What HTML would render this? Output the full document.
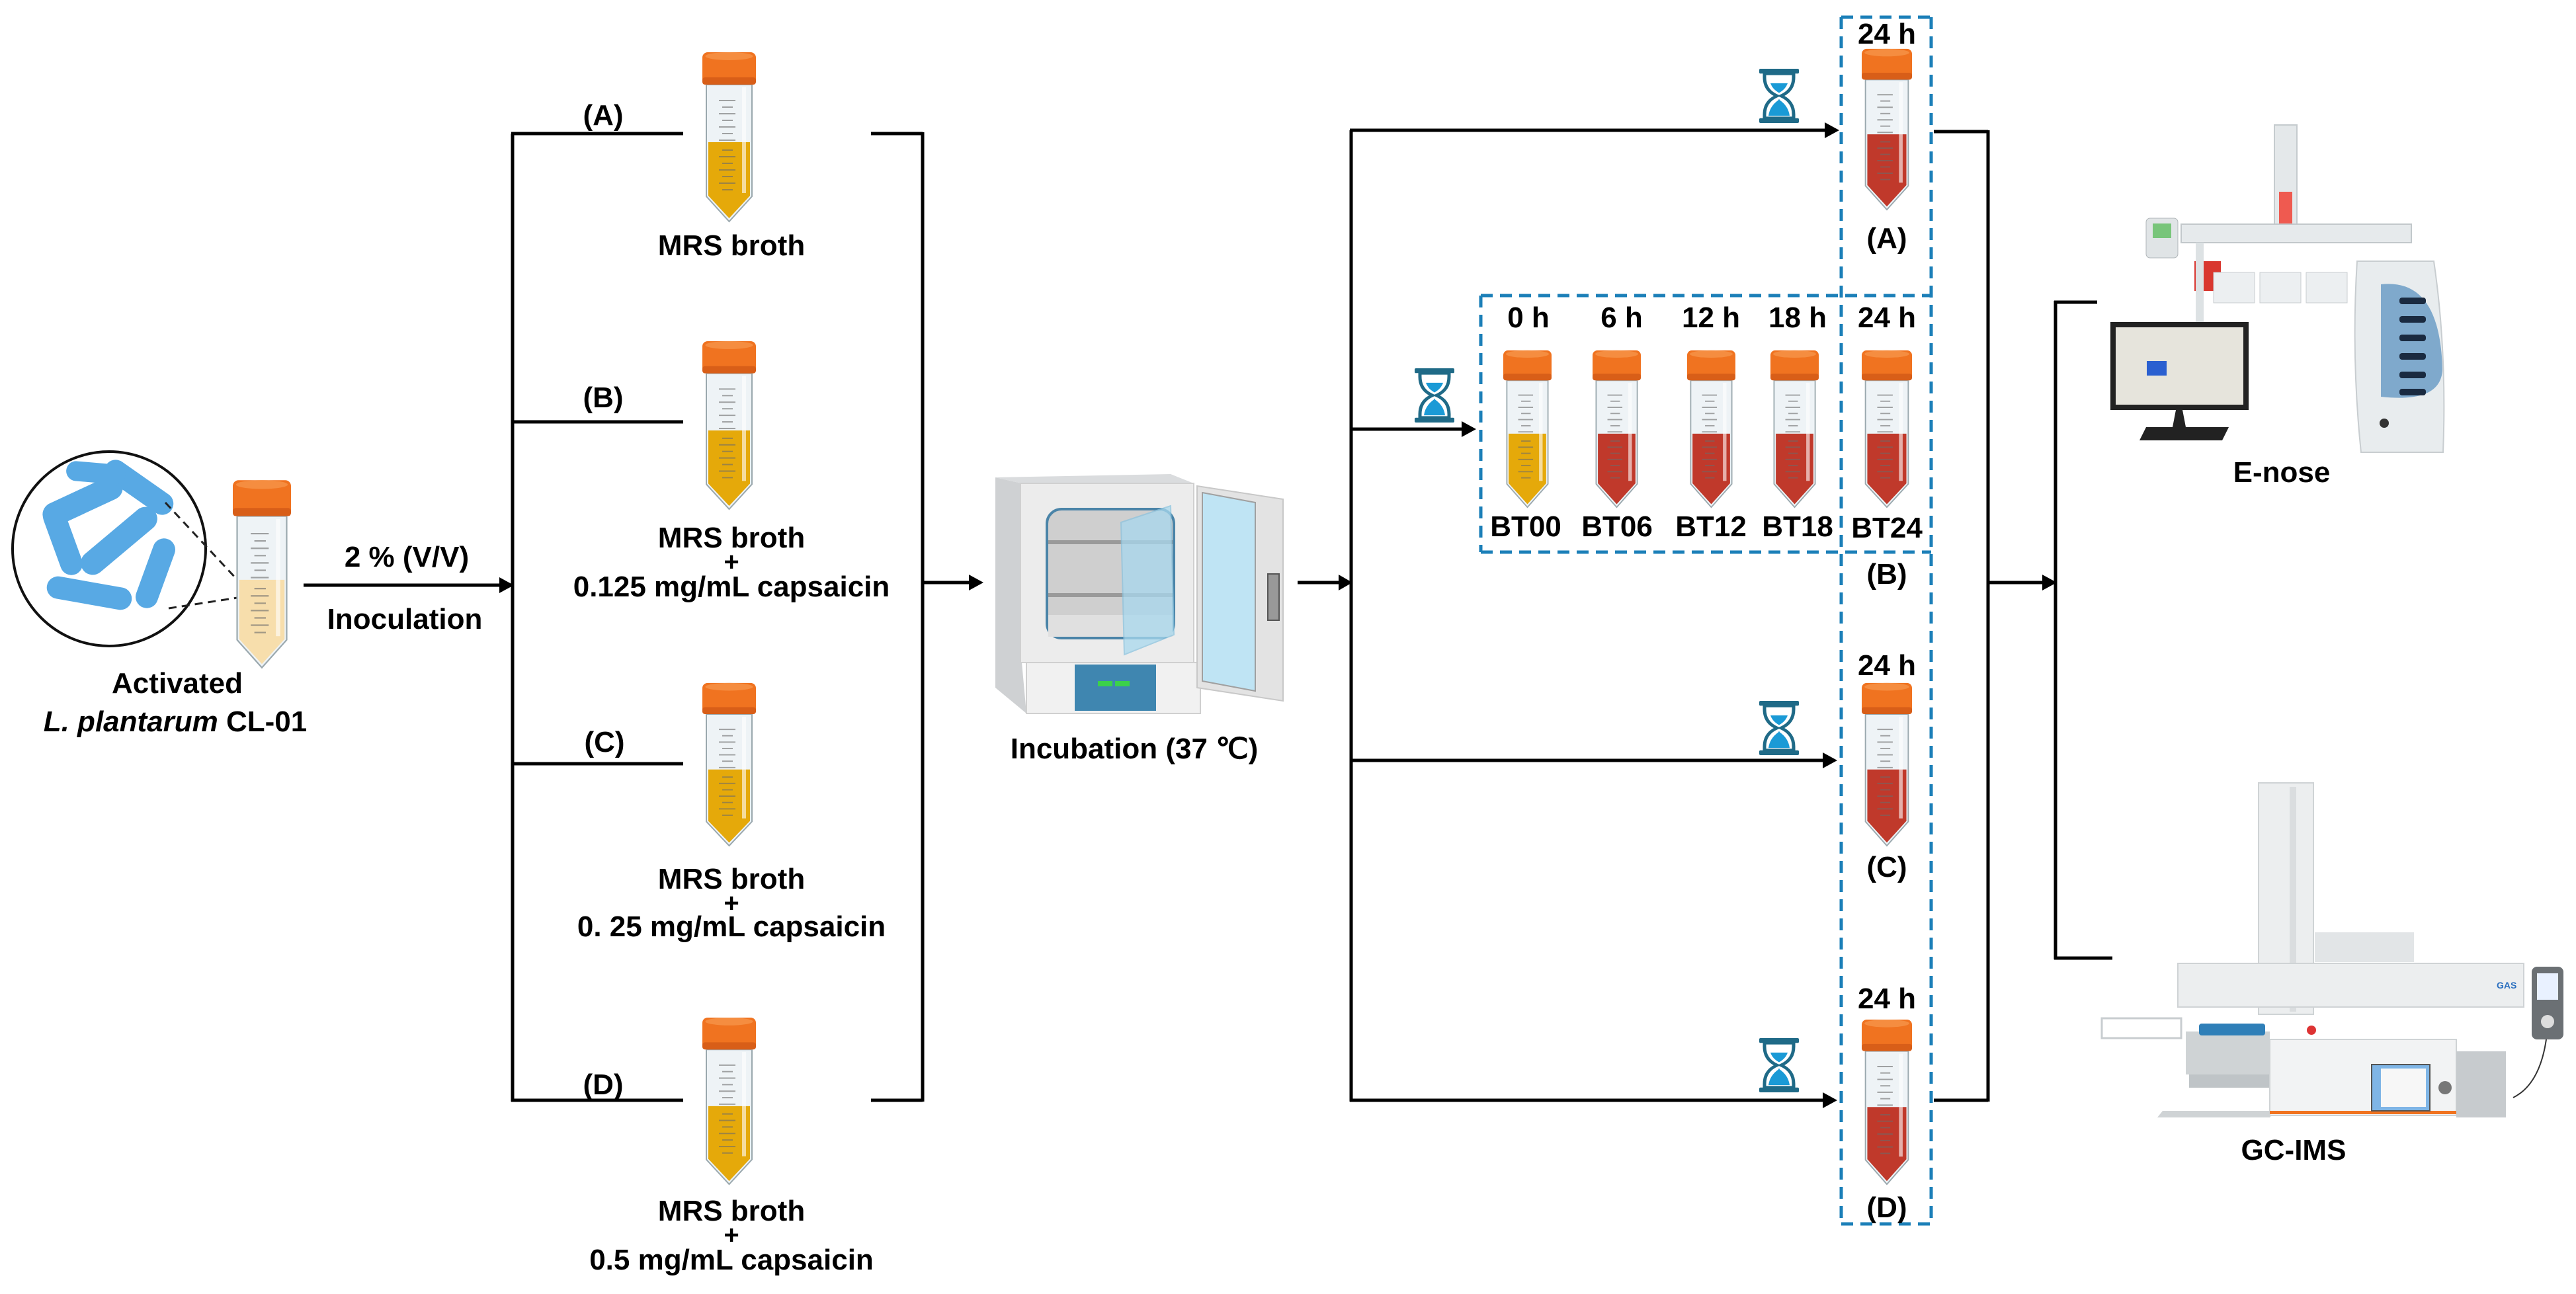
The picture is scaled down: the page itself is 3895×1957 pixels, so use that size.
<!DOCTYPE html>
<html><head><meta charset="utf-8"><style>
html,body{margin:0;padding:0;background:#fff;}
svg{display:block;}
text{font-family:"Liberation Sans",Arial,sans-serif;font-weight:bold;fill:#000;}
</style></head><body>
<svg width="3895" height="1957" viewBox="0 0 3895 1957" xmlns="http://www.w3.org/2000/svg">
<defs>
<symbol id="tube" viewBox="0 0 81 260" preserveAspectRatio="none">
  <path d="M6 51 H75 V220 L40.5 258 L6 220 Z" fill="#eef3f6" stroke="#9aa8ae" stroke-width="2"/>
  <path d="M9 138 H72 V219 L40.5 253 L9 219 Z" fill="currentColor"/>
  <g stroke="#6b6b6b" stroke-width="2" opacity="0.6">
    <line x1="25" y1="75" x2="50" y2="75"/><line x1="30" y1="85" x2="46" y2="85"/>
    <line x1="25" y1="95" x2="50" y2="95"/><line x1="30" y1="105" x2="46" y2="105"/>
    <line x1="25" y1="115" x2="50" y2="115"/><line x1="30" y1="125" x2="46" y2="125"/>
    <line x1="25" y1="135" x2="50" y2="135"/><line x1="30" y1="150" x2="46" y2="150"/>
    <line x1="25" y1="160" x2="50" y2="160"/><line x1="30" y1="170" x2="46" y2="170"/>
    <line x1="25" y1="180" x2="50" y2="180"/><line x1="30" y1="190" x2="46" y2="190"/>
    <line x1="25" y1="200" x2="50" y2="200"/><line x1="30" y1="210" x2="46" y2="210"/>
  </g>
  <rect x="60" y="55" width="6" height="160" fill="#fff" opacity="0.6"/>
  <rect x="0" y="2" width="81" height="49" rx="8" fill="#f07320"/>
  <ellipse cx="40.5" cy="8" rx="36" ry="6" fill="#f58d40"/>
  <rect x="0" y="40" width="81" height="11" rx="4" fill="#d85e18"/>
</symbol>
<symbol id="hg" viewBox="0 0 60 90" preserveAspectRatio="none">
  <rect x="0" y="0" width="60" height="8" rx="2" fill="#1f6a87"/>
  <rect x="0" y="82" width="60" height="8" rx="2" fill="#1f6a87"/>
  <path d="M8 8 H52 V14 Q52 36 33 45 Q52 54 52 76 V82 H8 V76 Q8 54 27 45 Q8 36 8 14 Z" fill="#fff" stroke="#1f6a87" stroke-width="5"/>
  <path d="M17 24 H43 Q40 34 30 40 Q20 34 17 24 Z" fill="#1a9ad6"/>
  <path d="M30 50 L31 52 Q44 62 46 78 H14 Q16 62 29 52 Z" fill="#1a9ad6"/>
</symbol>
</defs>

<!-- Left: bacteria circle -->
<ellipse cx="165" cy="830" rx="146" ry="147" fill="#fff" stroke="#111" stroke-width="4"/>
<g fill="#3c9be0" opacity="0.85">
  <rect x="60" y="740" width="130" height="36" rx="18" transform="rotate(-25 125 758)"/>
  <rect x="150" y="720" width="120" height="34" rx="17" transform="rotate(35 210 737)"/>
  <rect x="40" y="800" width="110" height="34" rx="17" transform="rotate(70 95 817)"/>
  <rect x="110" y="800" width="140" height="36" rx="18" transform="rotate(-40 180 818)"/>
  <rect x="70" y="880" width="130" height="34" rx="17" transform="rotate(10 135 897)"/>
  <rect x="180" y="850" width="110" height="34" rx="17" transform="rotate(-70 235 867)"/>
  <rect x="100" y="700" width="90" height="30" rx="15" transform="rotate(5 145 715)"/>
</g>
<line x1="250" y1="760" x2="385" y2="905" stroke="#222" stroke-width="3" stroke-dasharray="12,8"/>
<line x1="255" y1="920" x2="385" y2="900" stroke="#222" stroke-width="3" stroke-dasharray="12,8"/>
<use href="#tube" x="352" y="724" width="88" height="288" style="color:#f7deac"/>
<text x="268" y="1048" font-size="44" text-anchor="middle">Activated</text>
<text x="265" y="1106" font-size="44" text-anchor="middle"><tspan font-style="italic">L. plantarum</tspan> CL-01</text>

<!-- inoculation arrow -->
<line x1="459" y1="885" x2="760" y2="885" stroke="#000" stroke-width="5"/>
<polygon points="777,885 755,873 755,897" fill="#000"/>
<text x="615" y="857" font-size="44" text-anchor="middle">2 % (V/V)</text>
<text x="612" y="951" font-size="44" text-anchor="middle">Inoculation</text>

<!-- left bracket -->
<g stroke="#000" stroke-width="5" fill="none">
  <line x1="775" y1="202" x2="775" y2="1666"/>
  <line x1="773" y1="202" x2="1033" y2="202"/>
  <line x1="773" y1="638" x2="1033" y2="638"/>
  <line x1="773" y1="1155" x2="1033" y2="1155"/>
  <line x1="773" y1="1664" x2="1033" y2="1664"/>
  <line x1="1317" y1="202" x2="1395" y2="202"/>
  <line x1="1317" y1="1664" x2="1395" y2="1664"/>
  <line x1="1395" y1="200" x2="1395" y2="1666"/>
  <line x1="1395" y1="881" x2="1470" y2="881"/>
</g>
<polygon points="1487,881 1465,869 1465,893" fill="#000"/>
<text x="912" y="189" font-size="44" text-anchor="middle">(A)</text>
<text x="912" y="616" font-size="44" text-anchor="middle">(B)</text>
<text x="914" y="1137" font-size="44" text-anchor="middle">(C)</text>
<text x="912" y="1655" font-size="44" text-anchor="middle">(D)</text>

<use href="#tube" x="1062" y="77" width="81" height="260" style="color:#e5a90a"/>
<use href="#tube" x="1062" y="514" width="81" height="258" style="color:#e5a90a"/>
<use href="#tube" x="1062" y="1031" width="81" height="250" style="color:#e5a90a"/>
<use href="#tube" x="1062" y="1537" width="81" height="256" style="color:#e5a90a"/>

<text x="1106" y="386" font-size="44" text-anchor="middle">MRS broth</text>
<text x="1106" y="828" font-size="44" text-anchor="middle">MRS broth</text>
<text x="1106" y="863" font-size="40" text-anchor="middle">+</text>
<text x="1106" y="902" font-size="44" text-anchor="middle">0.125 mg/mL capsaicin</text>
<text x="1106" y="1344" font-size="44" text-anchor="middle">MRS broth</text>
<text x="1106" y="1379" font-size="40" text-anchor="middle">+</text>
<text x="1106" y="1416" font-size="44" text-anchor="middle">0. 25 mg/mL capsaicin</text>
<text x="1106" y="1846" font-size="44" text-anchor="middle">MRS broth</text>
<text x="1106" y="1881" font-size="40" text-anchor="middle">+</text>
<text x="1106" y="1920" font-size="44" text-anchor="middle">0.5 mg/mL capsaicin</text>

<!-- Incubator -->
<polygon points="1505,722 1545,731 1545,1002 1552,1079 1505,1040" fill="#cfd1d3"/>
<polygon points="1505,722 1545,731 1805,731 1770,717" fill="#dadcde"/>
<rect x="1543" y="731" width="262" height="271" fill="#ececec" stroke="#d0d0d0" stroke-width="2"/>
<rect x="1583" y="770" width="192" height="195" rx="22" fill="#cfcfcf" stroke="#4a84a8" stroke-width="4"/>
<line x1="1585" y1="820" x2="1773" y2="820" stroke="#9a9a9a" stroke-width="6"/>
<line x1="1585" y1="900" x2="1773" y2="900" stroke="#9a9a9a" stroke-width="6"/>
<rect x="1585" y="930" width="188" height="33" fill="#e0e0e0"/>
<polygon points="1695,790 1770,765 1775,960 1700,990" fill="#a8d8ee" opacity="0.75" stroke="#8cc4df" stroke-width="2"/>
<rect x="1552" y="1002" width="263" height="77" fill="#f1f1f1" stroke="#d0d0d0" stroke-width="2"/>
<rect x="1625" y="1005" width="123" height="70" fill="#3f86b0"/>
<rect x="1660" y="1030" width="22" height="8" fill="#3bd14a"/>
<rect x="1686" y="1030" width="22" height="8" fill="#3bd14a"/>
<polygon points="1810,735 1940,755 1940,1060 1810,1040" fill="#e3e3e3" stroke="#c8c8c8" stroke-width="2"/>
<polygon points="1818,745 1898,760 1898,1045 1818,1030" fill="#bfe4f4" stroke="#a0a0a0" stroke-width="2"/>
<rect x="1917" y="868" width="17" height="70" fill="#999" stroke="#555" stroke-width="2"/>
<text x="1715" y="1147" font-size="44" text-anchor="middle">Incubation (37 ℃)</text>

<!-- right distribution -->
<g stroke="#000" stroke-width="5" fill="none">
  <line x1="1962" y1="881" x2="2028" y2="881"/>
  <line x1="2043" y1="197" x2="2043" y2="1666"/>
  <line x1="2041" y1="197" x2="2760" y2="197"/>
  <line x1="2041" y1="649" x2="2212" y2="649"/>
  <line x1="2041" y1="1150" x2="2758" y2="1150"/>
  <line x1="2041" y1="1664" x2="2758" y2="1664"/>
  <line x1="2924" y1="199" x2="3006" y2="199"/>
  <line x1="2924" y1="1664" x2="3006" y2="1664"/>
  <line x1="3006" y1="197" x2="3006" y2="1666"/>
  <line x1="3006" y1="881" x2="3090" y2="881"/>
  <line x1="3108" y1="455" x2="3108" y2="1451"/>
  <line x1="3106" y1="457" x2="3171" y2="457"/>
  <line x1="3106" y1="1449" x2="3194" y2="1449"/>
</g>
<polygon points="2045,881 2024,869 2024,893" fill="#000"/>
<polygon points="2781,197 2759,185 2759,209" fill="#000"/>
<polygon points="2232,649 2210,637 2210,661" fill="#000"/>
<polygon points="2778,1150 2756,1138 2756,1162" fill="#000"/>
<polygon points="2778,1664 2756,1652 2756,1676" fill="#000"/>
<polygon points="3110,881 3088,869 3088,893" fill="#000"/>

<!-- hourglasses -->
<use href="#hg" x="2660" y="104" width="60" height="82"/>
<use href="#hg" x="2139" y="557" width="60" height="82"/>
<use href="#hg" x="2660" y="1060" width="60" height="82"/>
<use href="#hg" x="2660" y="1570" width="60" height="82"/>

<!-- dashed boxes -->
<g stroke="#1b7fb8" stroke-width="5" fill="none" stroke-dasharray="18,11">
  <line x1="2784" y1="26" x2="2920" y2="26"/>
  <line x1="2784" y1="26" x2="2784" y2="1851"/>
  <line x1="2920" y1="26" x2="2920" y2="1851"/>
  <line x1="2784" y1="1851" x2="2920" y2="1851"/>
  <line x1="2239" y1="447" x2="2920" y2="447"/>
  <line x1="2239" y1="835" x2="2920" y2="835"/>
  <line x1="2239" y1="447" x2="2239" y2="835"/>
</g>

<!-- right tubes -->
<use href="#tube" x="2815" y="72" width="76" height="247" style="color:#c0392b"/>
<use href="#tube" x="2273" y="528" width="73" height="241" style="color:#e5a90a"/>
<use href="#tube" x="2408" y="528" width="73" height="241" style="color:#c0392b"/>
<use href="#tube" x="2551" y="528" width="73" height="241" style="color:#c0392b"/>
<use href="#tube" x="2677" y="528" width="73" height="241" style="color:#c0392b"/>
<use href="#tube" x="2815" y="528" width="76" height="241" style="color:#c0392b"/>
<use href="#tube" x="2815" y="1031" width="76" height="250" style="color:#c0392b"/>
<use href="#tube" x="2815" y="1540" width="76" height="253" style="color:#c0392b"/>

<g font-size="44" text-anchor="middle">
<text x="2853" y="66">24 h</text>
<text x="2853" y="375">(A)</text>
<text x="2311" y="495">0 h</text>
<text x="2452" y="495">6 h</text>
<text x="2587" y="495">12 h</text>
<text x="2718" y="495">18 h</text>
<text x="2853" y="495">24 h</text>
<text x="2307" y="811">BT00</text>
<text x="2445" y="811">BT06</text>
<text x="2587" y="811">BT12</text>
<text x="2718" y="811">BT18</text>
<text x="2853" y="813">BT24</text>
<text x="2853" y="883">(B)</text>
<text x="2853" y="1021">24 h</text>
<text x="2853" y="1326">(C)</text>
<text x="2853" y="1525">24 h</text>
<text x="2853" y="1841">(D)</text>
</g>

<!-- E-nose -->
<rect x="3439" y="189" width="34" height="152" fill="#e4e8ea" stroke="#c5cbce" stroke-width="2"/>
<rect x="3446" y="290" width="20" height="70" fill="#ef5a50"/>
<rect x="3298" y="339" width="348" height="28" fill="#e6eaec" stroke="#c2c8cb" stroke-width="2"/>
<rect x="3245" y="330" width="48" height="60" rx="6" fill="#e0e4e6" stroke="#b0b6b9"/>
<rect x="3255" y="338" width="28" height="22" fill="#78c57a"/>
<rect x="3318" y="395" width="40" height="45" fill="#d9372f"/>
<rect x="3347" y="412" width="62" height="46" fill="#eceff1" stroke="#c8cdd0"/>
<rect x="3417" y="412" width="62" height="46" fill="#eceff1" stroke="#c8cdd0"/>
<rect x="3487" y="412" width="62" height="46" fill="#eceff1" stroke="#c8cdd0"/>
<rect x="3320" y="367" width="12" height="120" fill="#dde2e4"/>
<rect x="3191" y="487" width="209" height="133" fill="#222"/>
<rect x="3199" y="495" width="193" height="117" fill="#e6e4dc"/>
<rect x="3246" y="546" width="30" height="22" fill="#2a5fd0"/>
<polygon points="3290,620 3300,620 3305,646 3285,646" fill="#222"/>
<polygon points="3245,646 3370,646 3360,666 3235,666" fill="#222"/>
<path d="M3564 395 H3680 Q3700 530 3694 684 H3570 Q3555 540 3564 395 Z" fill="#e8ecee" stroke="#c8cdd0" stroke-width="2"/>
<path d="M3600 430 Q3690 420 3693 560 Q3690 610 3600 600 Z" fill="#7fa9cc"/>
<g fill="#1a2a40"><rect x="3628" y="450" width="40" height="10" rx="4"/><rect x="3628" y="478" width="40" height="10" rx="4"/><rect x="3628" y="506" width="40" height="10" rx="4"/><rect x="3628" y="534" width="40" height="10" rx="4"/><rect x="3628" y="562" width="40" height="10" rx="4"/><rect x="3628" y="588" width="40" height="10" rx="4"/></g>
<circle cx="3605" cy="640" r="7" fill="#333"/>
<text x="3450" y="729" font-size="44" text-anchor="middle">E-nose</text>

<!-- GC-IMS -->
<rect x="3415" y="1184" width="83" height="350" fill="#eceeef" stroke="#cfd3d5" stroke-width="2"/>
<rect x="3462" y="1190" width="10" height="340" fill="#dadddf"/>
<rect x="3500" y="1410" width="150" height="45" fill="#e2e5e7"/>
<rect x="3293" y="1457" width="523" height="66" fill="#eceeef" stroke="#cfd3d5" stroke-width="2"/>
<text x="3775" y="1495" font-size="14" fill="#2a6fbf" style="fill:#2a6fbf">GAS</text>
<rect x="3178" y="1540" width="120" height="30" fill="none" stroke="#c8cdd0" stroke-width="3"/>
<rect x="3305" y="1560" width="127" height="65" fill="#cfd3d5"/>
<g fill="#2f7fb8"><rect x="3325" y="1548" width="100" height="18" rx="4"/></g>
<rect x="3310" y="1625" width="122" height="20" fill="#bfc4c7"/>
<polygon points="3270,1680 3440,1680 3432,1690 3262,1690" fill="#cfd3d5"/>
<rect x="3432" y="1572" width="282" height="115" fill="#f2f3f4" stroke="#cfd3d5" stroke-width="2"/>
<rect x="3432" y="1680" width="282" height="5" fill="#f07320"/>
<rect x="3586" y="1610" width="88" height="70" fill="#7fb5e6" stroke="#555" stroke-width="2"/>
<rect x="3600" y="1616" width="68" height="58" fill="#f7f7f7"/>
<circle cx="3697" cy="1645" r="10" fill="#777"/>
<circle cx="3495" cy="1558" r="7" fill="#d33"/>
<rect x="3714" y="1590" width="75" height="100" fill="#c7cbce"/>
<rect x="3828" y="1462" width="48" height="110" rx="8" fill="#6b7074"/>
<rect x="3836" y="1472" width="32" height="40" fill="#e9f1ff"/>
<circle cx="3852" cy="1545" r="10" fill="#ddd"/>
<path d="M3850 1572 Q3840 1640 3800 1660" stroke="#333" stroke-width="2" fill="none"/>
<text x="3468" y="1754" font-size="44" text-anchor="middle">GC-IMS</text>
</svg>
</body></html>
